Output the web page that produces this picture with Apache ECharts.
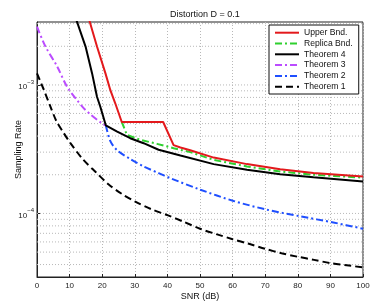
<!DOCTYPE html>
<html><head><meta charset="utf-8">
<script src="https://cdn.jsdelivr.net/npm/echarts@6/dist/echarts.min.js"></script>
<style>html,body{margin:0;padding:0;background:#fff}#c{width:374px;height:304px}</style>
</head><body><div id="c"></div>
<script>
var titleText = 'Distortion D = 0.1';
var xName = 'SNR (dB)';
var yName = 'Sampling Rate';
var seriesNames = ['Upper Bnd.', 'Replica Bnd.', 'Theorem 4', 'Theorem 3', 'Theorem 2', 'Theorem 1'];

var upperX = [15.5, 16.2, 18.4, 21, 22.5, 24, 26.0, 38.7, 41.9, 44, 47, 54.2, 64.4, 74.6, 84.8, 100];
var upperY = [3.56e-3, 3.09e-3, 1.99e-3, 1.23e-3, 9.1e-4, 7.2e-4, 5.15e-4, 5.15e-4, 3.4e-4, 3.26e-4, 3.1e-4, 2.72e-4, 2.42e-4, 2.21e-4, 2.06e-4, 1.94e-4];

var replicaX = [26.0, 27.6, 31.7, 36.8, 41.9, 47, 54.2, 64.4, 74.6, 84.8, 100];
var replicaY = [5.15e-4, 4.08e-4, 3.74e-4, 3.48e-4, 3.22e-4, 3.0e-4, 2.61e-4, 2.32e-4, 2.12e-4, 2.0e-4, 1.9e-4];

var thm4X = [11.8, 14.9, 16.9, 18.4, 19.4, 21.1, 24.6, 28.6, 32.7, 37.3, 44, 54.2, 64.4, 74.6, 84.8, 100];
var thm4Y = [3.36e-3, 1.99e-3, 1.23e-3, 8.1e-4, 6.8e-4, 4.85e-4, 4.34e-4, 3.85e-4, 3.52e-4, 3.13e-4, 2.82e-4, 2.42e-4, 2.19e-4, 2.02e-4, 1.91e-4, 1.77e-4];

var thm3X = [0, 2.6, 6.2, 9.2, 12.3, 14.3, 16.4, 20, 21.1];
var thm3Y = [2.84e-3, 1.99e-3, 1.39e-3, 9.7e-4, 7.6e-4, 6.6e-4, 5.9e-4, 5.0e-4, 4.85e-4];

var thm2X = [21.1, 22.5, 24.6, 28.6, 32.7, 37.3, 40.9, 50.1, 60.3, 70.5, 80.7, 90.9, 100];
var thm2Y = [4.85e-4, 3.65e-4, 3.1e-4, 2.65e-4, 2.32e-4, 2.06e-4, 1.88e-4, 1.53e-4, 1.25e-4, 1.07e-4, 9.5e-5, 8.5e-5, 7.6e-5];

var thm1X = [0, 2, 4, 6, 8, 10, 14, 18, 22, 26, 30, 35, 40, 45, 50, 55, 60, 65, 70, 75, 80, 85, 90, 95, 100];
var thm1Y = [1.23e-3, 9.3e-4, 6.9e-4, 5.2e-4, 4.3e-4, 3.6e-4, 2.65e-4, 2.1e-4, 1.68e-4, 1.42e-4, 1.24e-4, 1.08e-4, 9.7e-5, 8.6e-5, 7.6e-5, 6.9e-5, 6.3e-5, 5.8e-5, 5.3e-5, 4.9e-5, 4.6e-5, 4.35e-5, 4.1e-5, 3.95e-5, 3.8e-5];

var xMin = 0, xMax = 100;
var yMin = 3.2e-5, yMax = 3.09e-3;

function zip(xs, ys) { return xs.map(function (x, i) { return [x, ys[i]]; }); }

// log grid line levels at 1..9 x 10^k inside the range
var yGridLevels = [];
for (var k = -5; k <= -3; k++) {
  for (var m = 1; m <= 9; m++) {
    var v = m * Math.pow(10, k);
    if (v > yMin && v < yMax) yGridLevels.push(v);
  }
}

var FONT = 'Liberation Sans, Arial, Helvetica, sans-serif';
var dashDot = [7, 3, 2, 3];
var GRID_STYLE = { color: '#b8b8b8', type: [1, 2], width: 1 };

function lineSeries(name, data, color, type, z, smooth) {
  return {
    name: name, type: 'line', data: data, symbol: 'none', showSymbol: false,
    z: z, clip: true, animation: false,
    smooth: smooth || false,
    lineStyle: { color: color, width: 2, type: type },
    itemStyle: { color: color }
  };
}

var gridSeries = yGridLevels.map(function (v, i) {
  return {
    name: '_g' + i, type: 'line', data: [[xMin, v], [xMax, v]], symbol: 'none',
    silent: true, z: 1, animation: false, lineStyle: GRID_STYLE, tooltip: { show: false }
  };
});

var chart = echarts.init(document.getElementById('c'), null, { renderer: 'canvas' });
chart.setOption({
  animation: false,
  backgroundColor: '#fff',
  title: {
    text: titleText, left: 165, top: 5,
    textStyle: { fontFamily: FONT, fontSize: 9, fontWeight: 'normal', color: '#111' }
  },
  grid: { left: 37, right: 11, top: 22, bottom: 27, outerBoundsMode: 'none', containLabel: false,
    show: true, borderColor: '#222', borderWidth: 1, backgroundColor: 'transparent' },
  legend: {
    orient: 'vertical', left: 269, top: 25,
    padding: [2.7, 6, 2.3, 5], itemGap: 0.8, itemWidth: 24, itemHeight: 10,
    backgroundColor: '#fff', borderColor: '#111', borderWidth: 1,
    itemStyle: { opacity: 0, borderWidth: 0 },
    textStyle: { fontFamily: FONT, fontSize: 8.6, color: '#111', lineHeight: 10 },
    data: seriesNames
  },
  xAxis: {
    type: 'value', min: xMin, max: xMax, interval: 10,
    name: xName, nameLocation: 'middle', nameGap: 15, nameMoveOverlap: false,
    nameTextStyle: { fontFamily: FONT, fontSize: 9, color: '#111' },
    axisLine: { show: true, lineStyle: { color: '#222' } },
    axisTick: { show: true, inside: true, length: 3, lineStyle: { color: '#222' } },
    axisLabel: { fontFamily: FONT, fontSize: 8, color: '#222', margin: 5 },
    splitLine: { show: true, lineStyle: GRID_STYLE }
  },
  yAxis: {
    type: 'log', logBase: 10, min: yMin, max: yMax,
    name: yName, nameLocation: 'middle', nameGap: 14, nameRotate: 90, nameMoveOverlap: false,
    nameTextStyle: { fontFamily: FONT, fontSize: 9, color: '#111' },
    axisLine: { show: true, lineStyle: { color: '#222' } },
    axisTick: { show: true, inside: true, length: 4, lineStyle: { color: '#222' } },
    splitLine: { show: false },
    axisLabel: {
      showMinLabel: false, showMaxLabel: false, margin: 3,
      formatter: function (v) {
        var e = Math.round(Math.log(v) / Math.LN10);
        if (Math.abs(Math.pow(10, e) - v) / v > 1e-6) return '';
        return '{b|10}{s|' + (e < 0 ? '\u2212' : '') + Math.abs(e) + '}';
      },
      rich: {
        b: { fontFamily: FONT, fontSize: 8, color: '#222', lineHeight: 12, verticalAlign: 'bottom' },
        s: { fontFamily: FONT, fontSize: 6, color: '#222', lineHeight: 12, verticalAlign: 'top' }
      }
    }
  },
  series: gridSeries.concat([
    lineSeries(seriesNames[5], zip(thm1X, thm1Y), '#000', [7, 4], 3, 0.3),
    lineSeries(seriesNames[4], zip(thm2X, thm2Y), '#1f4fff', dashDot, 3, 0.3),
    lineSeries(seriesNames[3], zip(thm3X, thm3Y), '#bb4cff', dashDot, 4, 0.3),
    lineSeries(seriesNames[1], zip(replicaX, replicaY), '#2fd02f', dashDot, 4, false),
    lineSeries(seriesNames[2], zip(thm4X, thm4Y), '#000', 'solid', 5, false),
    lineSeries(seriesNames[0], zip(upperX, upperY), '#e3191c', 'solid', 6, false)
  ])
});
</script></body></html>
